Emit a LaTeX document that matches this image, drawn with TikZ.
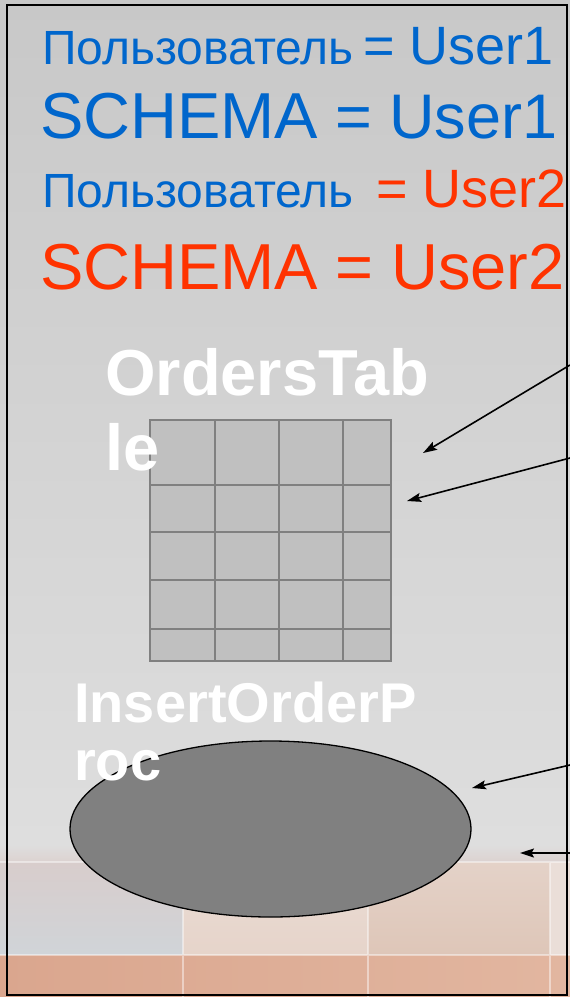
\documentclass[tikz,border=0pt]{standalone}
\usepackage{fontspec}
\setmainfont{Liberation Sans}
\usetikzlibrary{shapes.geometric,arrows.meta}

\definecolor{txtblue}{HTML}{0066CC}
\definecolor{txtred}{HTML}{FF3300}
\definecolor{cellfill}{HTML}{C0C0C0}
\definecolor{cellline}{HTML}{808080}
\definecolor{procfill}{HTML}{808080}
% background tones
\definecolor{wallTop}{HTML}{C8C8C8}
\definecolor{wallLow}{HTML}{DEDEDE}
\definecolor{floorEdge}{HTML}{DCD2D0}
\definecolor{tileAtop}{HTML}{D8CDCC}
\definecolor{tileAbot}{HTML}{D0D4D8}
\definecolor{tileBtop}{HTML}{EADCD4}
\definecolor{tileBbot}{HTML}{E6D4CA}
\definecolor{tileCtop}{HTML}{E4D2C8}
\definecolor{tileCbot}{HTML}{DEC6B8}
\definecolor{tileD}{HTML}{EADED8}
\definecolor{floorL}{HTML}{DAA68E}
\definecolor{floorR}{HTML}{E2B6A0}

\tikzset{
  label text/.style={inner sep=0pt, anchor=base west},
  obj title/.style={label text, text=white, font=\bfseries},
  pointer/.style={line width=1.6pt, -{Stealth[length=14pt,width=9pt,inset=2.5pt]}},
  grid line/.style={draw=cellline, line width=2pt},
}

\begin{document}
\begin{tikzpicture}[x=1pt,y=-1pt]
\useasboundingbox (0,0) rectangle (570,997);

% slide background: grey wall and tiled floor
\shade[top color=wallTop, bottom color=wallLow] (0,0) rectangle (570,845);
\shade[top color=wallLow, bottom color=floorEdge] (0,845) rectangle (570,862);
\shade[top color=tileAtop, bottom color=tileAbot] (0,862) rectangle (183,955);
\shade[top color=tileBtop, bottom color=tileBbot] (183,862) rectangle (368,955);
\shade[top color=tileCtop, bottom color=tileCbot] (368,862) rectangle (550,955);
\fill[tileD] (550,862) rectangle (570,955);
\shade[left color=floorL, right color=floorR] (0,955) rectangle (570,997);
\draw[white, opacity=0.45, line width=1.5pt] (0,862) -- (570,862) (0,955) -- (570,955)
  (183,862) -- (183,997) (368,862) -- (368,997) (550,862) -- (550,997);

% user / schema lines
\node[label text, text=txtblue, font=\fontsize{48}{56}\selectfont] (u1) at (42,64) {Пользователь};
\node[label text, text=txtblue, font=\fontsize{54}{64}\selectfont] (u1v) at (363,64) {= User1};
\node[label text, text=txtblue, font=\fontsize{65}{78}\selectfont] (s1) at (40,138) {SCHEMA};
\node[label text, text=txtblue, font=\fontsize{63}{76}\selectfont] (s1v) at (335,138) {= User1};
\node[label text, text=txtblue, font=\fontsize{48}{56}\selectfont] (u2) at (42,207) {Пользователь};
\node[label text, text=txtred, font=\fontsize{54}{64}\selectfont] (u2v) at (376,207) {= User2};
\node[label text, text=txtred, font=\fontsize{65}{78}\selectfont] (s2) at (40,289) {SCHEMA};
\node[label text, text=txtred, font=\fontsize{65}{78}\selectfont] (s2v) at (335,289) {= User2};

% the orders table
\node[draw=cellline, fill=cellfill, line width=2pt, minimum width=241pt, minimum height=241pt, inner sep=0pt]
  (tbl) at (270.5,540.5) {};
\draw[grid line] (215,420) -- (215,661) (279,420) -- (279,661) (343,420) -- (343,661);
\draw[grid line] (150,485) -- (391,485) (150,532) -- (391,532) (150,580) -- (391,580) (150,629) -- (391,629);
\node[obj title, font=\bfseries\fontsize{65}{75}\selectfont] (ot1) at (105,395) {OrdersTab};
\node[obj title, font=\bfseries\fontsize{65}{75}\selectfont] (ot2) at (105,470) {le};

% the stored procedure
\node[ellipse, draw=black, line width=1.3pt, fill=procfill, minimum width=401pt, minimum height=176pt, inner sep=0pt]
  (proc) at (270.5,829) {};
\node[obj title, font=\bfseries\fontsize{56}{62}\selectfont] (ip1) at (74,722) {InsertOrderP};
\node[obj title, font=\bfseries\fontsize{56}{62}\selectfont] (ip2) at (74,780) {roc};

% pointers coming in from the right
\coordinate (a1s) at (570,365);  \coordinate (a1e) at (423,453);
\coordinate (a2s) at (570,458);  \coordinate (a2e) at (407,501);
\coordinate (a3s) at (570,765);  \coordinate (a3e) at (472,788);
\coordinate (a4s) at (570,853);  \coordinate (a4e) at (520,853);
\draw[pointer] (a1s) -- (a1e);
\draw[pointer] (a2s) -- (a2e);
\draw[pointer] (a3s) -- (a3e);
\draw[pointer] (a4s) -- (a4e);

% frame
\draw[black, line width=2pt] (7,5) rectangle (567,995);
\end{tikzpicture}
\end{document}
